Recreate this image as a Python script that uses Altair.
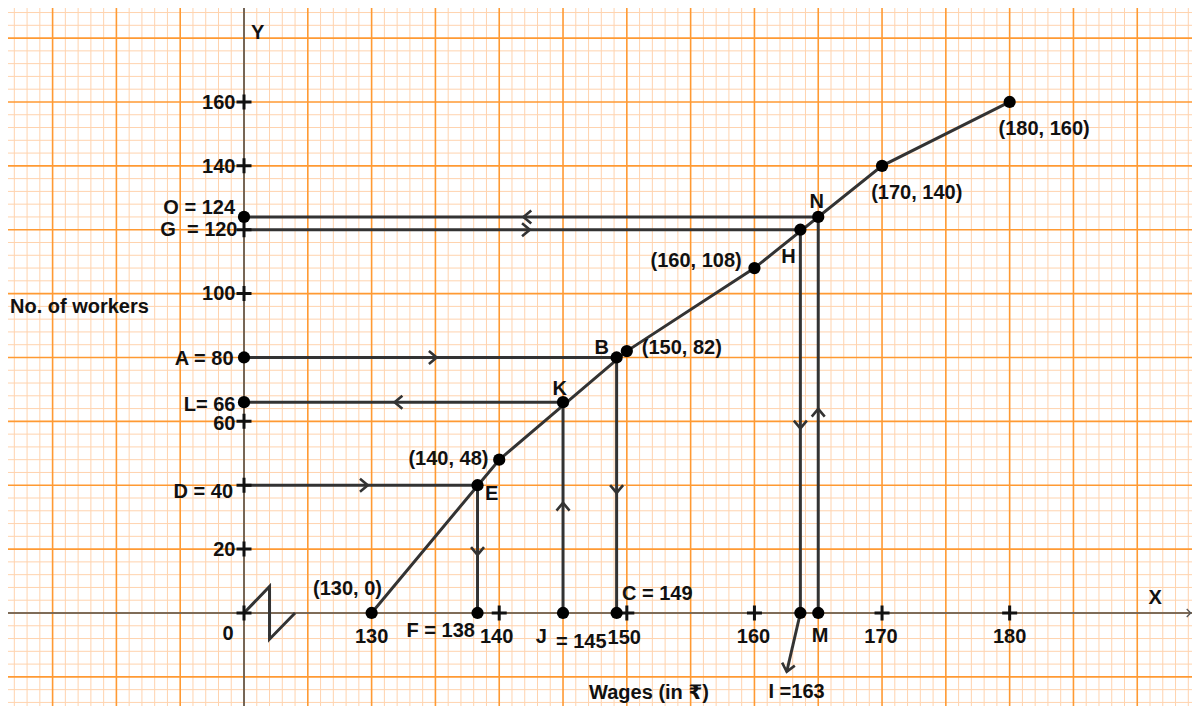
import altair as alt
import pandas as pd
import numpy as np

# ---- data ----
wages = [130, 140, 150, 160, 170, 180]
workers = [0, 48, 82, 108, 140, 160]

# construction points on the ogive (E, K, B, H, N)
cp_name = ["E", "K", "B", "H", "N"]
cp_x = [138.3, 145.0, 149.2, 163.6, 165.0]
cp_y = [40, 66, 80, 120, 124]

# dots on the y axis (O, A, L) and crosses on the axes
yaxis_dots = [124, 80, 66]
xaxis_cross = [120, 140, 150, 160, 170, 180]
yaxis_cross = [20, 40, 60, 100, 120, 140, 160]

# chevrons: tip x, tip y, angle (0 = pointing right)
chev_x = [135.1, 129.7, 142.4, 141.9, 131.8, 138.3, 149.2, 145.0, 163.6, 165.0, 162.53]
chev_y = [80, 40, 120, 124, 66, 18.2, 37.6, 34.5, 57.8, 63.9, -18.4]
chev_a = [0, 0, 0, 180, 180, 90, 90, 270, 90, 270, 103]

# axis break zig-zag
zig_x = [120, 122, 122, 124]
zig_y = [0, 8.3, -8.2, 0]

# label arrays
lab_c_text = ["X", "0", "130", "140", "J", "150", "160", "M", "170", "180",
              "Wages (in ₹)", "I =163", "(130, 0)", "K", "B", "H", "N",
              "(170, 140)", "(180, 160)"]
lab_c_x = [191.4, 118.75, 130.0, 139.8, 143.3, 149.8, 159.93, 165.14, 169.92, 180.0,
           151.74, 163.3, 128.11, 144.74, 148.03, 162.66, 164.88, 172.72, 182.7]
lab_c_y = [4.7, -6.6, -7.5, -7.4, -7.4, -7.8, -7.4, -7.3, -7.5, -7.5,
           -25.0, -24.6, 7.4, 70.0, 82.9, 111.4, 128.8, 131.6, 151.4]

lab_l_text = ["Y", "= 145", "C = 149", "E", "(150, 82)", "No. of workers"]
lab_l_x = [120.55, 144.45, 149.62, 138.89, 151.17, 101.66]
lab_l_y = [181.6, -9.0, 5.85, 37.3, 82.9, 95.8]

lab_r_text = ["F = 138", "160", "140", "O = 124", "G\u00a0 = 120", "100", "A = 80",
              "L= 66", "60", "D = 40", "20", "(140, 48)", "(160, 108)"]
lab_r_x = [138.1, 119.33, 119.33, 119.3, 119.49, 119.33, 119.18,
           119.33, 119.33, 119.14, 119.33, 139.16, 159.0]
lab_r_y = [-5.5, 159.8, 139.7, 126.7, 119.9, 99.9, 79.4,
           65.1, 59.2, 38.0, 19.7, 48.1, 110.3]

X_DOMAIN = [101.505, 194.29]
Y_DOMAIN = [-29.12, 189.42]
W, H = 1184, 698

FONT = "Liberation Sans, Arial, DejaVu Sans"
INK = "#333333"

xs = alt.Scale(domain=X_DOMAIN, nice=False, zero=False)
ys = alt.Scale(domain=Y_DOMAIN, nice=False, zero=False)


def X(f="x"):
    return alt.X(f"{f}:Q", scale=xs, axis=None)


def Y(f="y"):
    return alt.Y(f"{f}:Q", scale=ys, axis=None)


# ---- graph paper ----
vx = np.arange(102, 195, 1)
hy = np.arange(-28, 189, 4)
v_minor = pd.DataFrame({"x": [v for v in vx if v % 5 != 0]})
v_major = pd.DataFrame({"x": [v for v in vx if v % 5 == 0]})
h_minor = pd.DataFrame({"y": [v for v in hy if v % 20 != 0]})
h_major = pd.DataFrame({"y": [v for v in hy if v % 20 == 0]})

grid = (
    alt.Chart(v_minor).mark_rule(color="#FFD3AE", strokeWidth=1).encode(x=X())
    + alt.Chart(h_minor).mark_rule(color="#FFD3AE", strokeWidth=1).encode(y=Y())
    + alt.Chart(v_major).mark_rule(color="#FF9A33", strokeWidth=1.6).encode(x=X())
    + alt.Chart(h_major).mark_rule(color="#FF9A33", strokeWidth=1.6).encode(y=Y())
)

# ---- axes ----
axes_df = pd.DataFrame({"x": [X_DOMAIN[0], 120], "x2": [X_DOMAIN[1], 120],
                        "y": [0, Y_DOMAIN[0]], "y2": [0, Y_DOMAIN[1]]})
axes = alt.Chart(axes_df).mark_rule(color="#555555", strokeWidth=1.6).encode(
    x=X(), x2="x2:Q", y=Y(), y2="y2:Q")
x_arrow = alt.Chart(pd.DataFrame({"x": [X_DOMAIN[1] - 0.1], "y": [0]})).mark_point(
    shape="M-1,-1L0,0L-1,1", filled=False, size=64, strokeWidth=1.3, color="#555555",
    opacity=1).encode(x=X(), y=Y())

zig = alt.Chart(pd.DataFrame({"x": zig_x, "y": zig_y, "o": list(range(len(zig_x)))})).mark_line(
    color=INK, strokeWidth=3).encode(x=X(), y=Y(), order="o:Q")

# ---- construction lines ----
seg_x = [120] * len(cp_x) + cp_x + [cp_x[3]]
seg_x2 = cp_x + cp_x + [chev_x[-1]]
seg_y = cp_y + cp_y + [0]
seg_y2 = cp_y + [0] * len(cp_x) + [chev_y[-1]]
segs = alt.Chart(pd.DataFrame({"x": seg_x, "x2": seg_x2, "y": seg_y, "y2": seg_y2})).mark_rule(
    color=INK, strokeWidth=3).encode(x=X(), x2="x2:Q", y=Y(), y2="y2:Q")

ogive = alt.Chart(pd.DataFrame({"x": wages, "y": workers})).mark_line(
    color=INK, strokeWidth=3).encode(x=X(), y=Y())

# ---- crosses ----
cross_df = pd.DataFrame({"x": xaxis_cross + [120] * len(yaxis_cross),
                         "y": [0] * len(xaxis_cross) + yaxis_cross})
crosses = alt.Chart(cross_df).mark_point(
    shape="M-1,0L1,0M0,-1L0,1", filled=False, size=225, strokeWidth=3,
    color="#111111", opacity=1).encode(x=X(), y=Y())

# ---- chevrons ----
chev = alt.Chart(pd.DataFrame({"x": chev_x, "y": chev_y, "a": chev_a})).mark_point(
    shape="M-1.2,-1L0,0L-1.2,1", filled=False, size=169, strokeWidth=2.6,
    color=INK, opacity=1).encode(x=X(), y=Y(), angle=alt.Angle("a:Q", scale=None))

# ---- dots ----
dot_x = wages + cp_x + [120] * len(yaxis_dots) + cp_x
dot_y = workers + cp_y + yaxis_dots + [0] * len(cp_x)
dots = alt.Chart(pd.DataFrame({"x": dot_x, "y": dot_y})).mark_circle(
    color="#000000", size=150, opacity=1).encode(x=X(), y=Y())


# ---- labels ----
def labels(texts, lx, ly, align):
    return alt.Chart(pd.DataFrame({"t": texts, "x": lx, "y": ly})).mark_text(
        align=align, baseline="middle", font=FONT, fontSize=20, fontWeight="bold",
        color="#111111").encode(x=X(), y=Y(), text="t:N")


texts = (labels(lab_c_text, lab_c_x, lab_c_y, "center")
         + labels(lab_l_text, lab_l_x, lab_l_y, "left")
         + labels(lab_r_text, lab_r_x, lab_r_y, "right"))

chart = alt.layer(grid, axes, x_arrow, zig, segs, ogive, crosses, chev, dots, texts).properties(
    width=W, height=H, padding=0, autosize=alt.AutoSizeParams(type="none"),
    background="white"
).configure_view(stroke=None)

chart.save("out.html", embed_options={"renderer": "svg", "actions": False})
